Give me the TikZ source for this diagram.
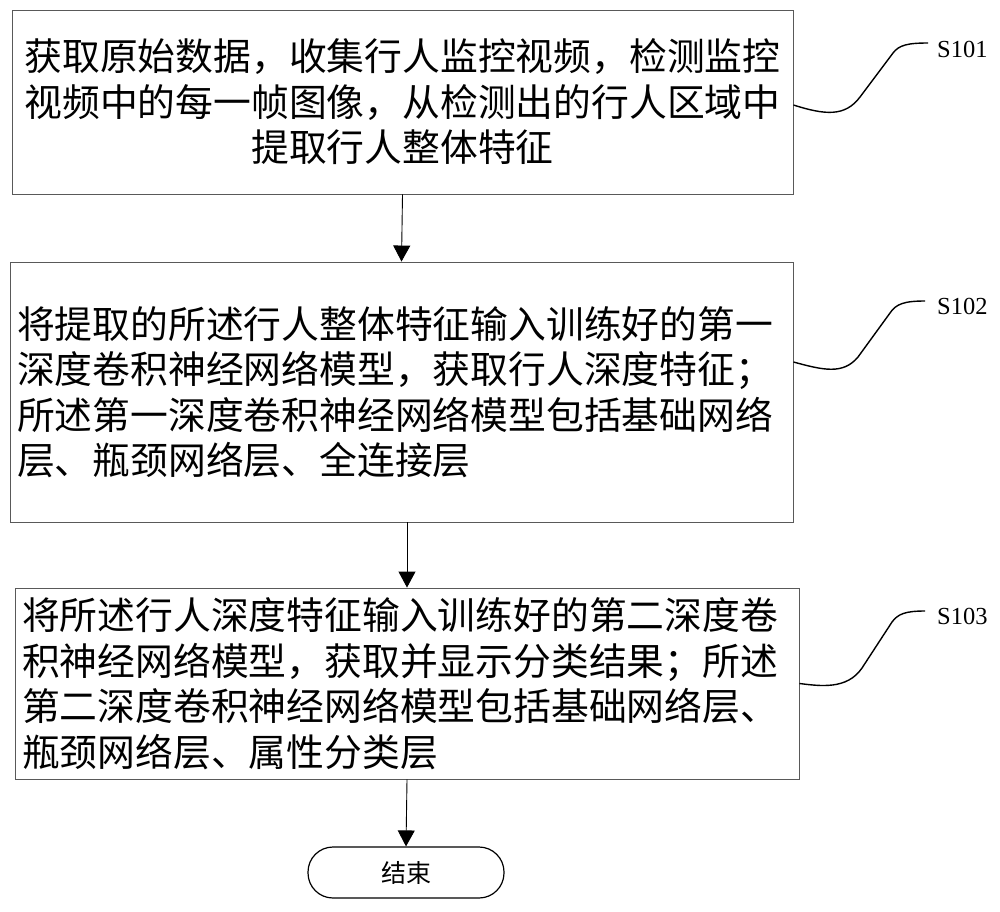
\documentclass[tikz,border=0pt]{standalone}
\usepackage{fontspec}
\setmainfont{Liberation Serif}
\newfontfamily\cjk{Noto Sans CJK SC}
\usetikzlibrary{arrows.meta}

\begin{document}
\begin{tikzpicture}[x=1pt,y=-1pt,
  stepbox/.style={draw=black!65, line width=0.9pt, inner xsep=7pt, inner ysep=0pt, font=\cjk\fontsize{37.8}{45.5}\selectfont},
  endbox/.style={draw, line width=1.2pt, rounded corners=25pt, minimum width=196pt, minimum height=51pt, inner sep=0pt, font=\cjk\fontsize{25}{30}\selectfont},
  arr/.style={-{Triangle[width=17pt,length=16pt]}, line width=0.9pt},
  lab/.style={anchor=west, inner sep=0pt, font=\fontsize{24.5}{29}\selectfont},
  lead/.style={line width=1.4pt}]
\useasboundingbox (0,0) rectangle (1000,911);
\node[stepbox, minimum height=184pt, text width=767pt, align=center] (b1) at (402.5,102) {获取原始数据，收集行人监控视频，检测监控\\视频中的每一帧图像，从检测出的行人区域中\\提取行人整体特征};
\node[stepbox, minimum height=260pt, text width=769pt, align=left] (b2) at (401.5,392) {将提取的所述行人整体特征输入训练好的第一\\深度卷积神经网络模型，获取行人深度特征；\\所述第一深度卷积神经网络模型包括基础网络\\层、瓶颈网络层、全连接层};
\node[stepbox, minimum height=191pt, text width=770pt, align=left] (b3) at (407,683.5) {将所述行人深度特征输入训练好的第二深度卷\\积神经网络模型，获取并显示分类结果；所述\\第二深度卷积神经网络模型包括基础网络层、\\瓶颈网络层、属性分类层};
\node[endbox] (end) at (406,872.5) {结束};
\draw[arr] (b1.south) -- (b2.north);
\draw[arr] (b2.south -| b3.north) -- (b3.north);
\draw[arr] (b3.south) -- (end.north);
\node[lab] (s1) at (937,49) {S101};
\node[lab] (s2) at (937,306) {S102};
\node[lab] (s3) at (937,616) {S103};
\coordinate (e1) at (928,43);
\coordinate (e2) at (925,301);
\coordinate (e3) at (925,611);
\draw[lead] ([yshift=-3pt]b1.east) .. controls (825,115) and (845,117) .. (860,97) -- (893,53) .. controls (899,45) and (908,43) .. (e1);
\draw[lead] ([yshift=30pt]b2.east) .. controls (823,370) and (843,375) .. (858,357) -- (890,313) .. controls (896,304) and (904,301) .. (e2);
\draw[lead] (b3.east) .. controls (820,686) and (847,690) .. (862,668) -- (892,622) .. controls (898,614) and (905,611) .. (e3);
\end{tikzpicture}
\end{document}
